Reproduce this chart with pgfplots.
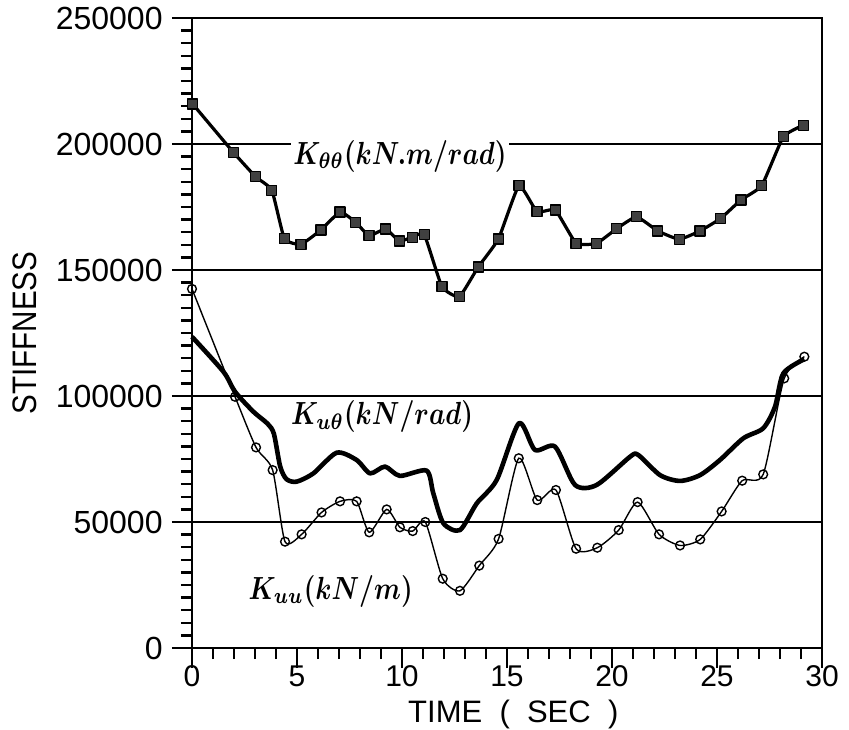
\documentclass[border=0pt]{standalone}
\usepackage{pgfplots}
\pgfplotsset{compat=1.18}
\usepackage{fontspec}
\newfontfamily\tfont{Liberation Sans}
\begin{document}
\begin{tikzpicture}
\useasboundingbox (-96pt,-40.5pt) rectangle (328.5pt,324pt);
\begin{axis}[
 at={(0,0)}, anchor=south west,
 scale only axis, width=315pt, height=315pt,
 xmin=0, xmax=30, ymin=0, ymax=250000,
 xtick={0,5,...,30}, xticklabels={0,5,10,15,20,25,30},
 ytick={0,50000,...,250000}, yticklabels={0,50000,100000,150000,200000,250000},
 minor x tick num=4, minor y tick num=9,
 scaled ticks=false,
 tick pos=left,
 tick align=outside,
 major tick length=10pt, minor tick length=5.5pt,
 every tick/.style={black, line width=1.2pt},
 axis line style={line width=1.1pt},
 ymajorgrids, grid style={black, line width=0.9pt},
 xticklabel style={font=\tfont\fontsize{15}{17}\selectfont, anchor=center, yshift=-4pt},
 yticklabel style={font=\tfont\fontsize{16}{18}\selectfont, anchor=east, inner sep=0pt, xshift=-4.5pt},
 ylabel={\scalebox{0.87}[1]{STIFFNESS}},
 ylabel style={font=\tfont\fontsize{17}{20}\selectfont, at={(axis description cs:-0.265,0.5)}, anchor=center},
 xlabel={TIME\ \ (\ \ SEC\ \ )},
 xlabel style={font=\tfont\fontsize{15.5}{18}\selectfont, at={(axis description cs:0.51,-0.105)}, anchor=center},
 clip=false,
]
% K_theta theta
\addplot[black, line width=1.6pt, line join=round, smooth, tension=0.25, mark=square*, mark size=2.5pt,
  mark options={fill=black!75, draw=black, line width=0.6pt}] coordinates {
(0.03,215900) (1.97,196700) (3.03,187000) (3.8,181700) (4.4,162400) (5.19,160200)
(6.14,165900) (7.05,173000) (7.79,169000) (8.43,163600) (9.22,166300) (9.87,161500)
(10.49,163000) (11.06,164100) (11.9,143400) (12.73,139400) (13.63,151200) (14.59,162300)
(15.57,183500) (16.43,173100) (17.3,173800) (18.29,160600) (19.27,160600) (20.22,166400)
(21.17,171100) (22.18,165500) (23.2,162200) (24.19,165500) (25.18,170500) (26.14,177800)
(27.13,183500) (28.16,202900) (29.1,207400)
};
% K_u theta
\addplot[black, line width=2.3pt, line join=round, smooth, tension=0.45] coordinates {
(0,123500) (1.5,109600) (2.05,101700) (2.92,93800) (3.6,89000) (3.9,85000) (4.2,72000) (4.5,67000) (4.98,66000)
(5.78,69300) (6.89,77500) (7.84,74600) (8.48,69300) (9.19,72000) (9.9,68300) (11.17,70400)
(11.49,61400) (11.97,49500) (12.76,46800) (13.56,57400) (14.51,66700) (15.57,89200)
(16.33,78600) (17.29,79900) (18.24,64700) (19.27,64700) (20.86,75900) (21.25,76600)
(22.29,68600) (23.24,66300) (24.19,68600) (25.14,74600) (26.25,83200) (27.2,87200)
(27.76,95700) (28.16,109000) (29.16,114600)
};
% K_uu
\addplot[black, line width=0.7pt, smooth, tension=0.4, mark=o, mark size=2.2pt,
  mark options={fill=white, line width=0.7pt}] coordinates {
(0,142500) (2.05,99700) (3.05,79600) (3.84,70600) (4.43,42200) (5.22,45100) (6.17,53800)
(7.05,58200) (7.84,58200) (8.44,45900) (9.27,55000) (9.9,47900) (10.51,46400) (11.11,50000)
(11.94,27500) (12.76,22700) (13.68,32700) (14.6,43300) (15.56,75300) (16.44,58700)
(17.33,62700) (18.29,39400) (19.3,39800) (20.32,46800) (21.22,57900) (22.24,45100)
(23.24,40700) (24.2,43100) (25.22,54200) (26.2,66400) (27.2,68900) (28.2,107000) (29.16,115600)
};
\node[fill=white, inner sep=1pt, xscale=1.3, yscale=1.6, font=\boldmath] at (axis cs:9.9,195200) {$K_{\theta\theta}(kN.m/rad)$};
\node[fill=white, inner sep=1pt, xscale=1.3, yscale=1.6, font=\boldmath] at (axis cs:9.05,91700) {$K_{u\theta}(kN/rad)$};
\node[inner sep=1pt, xscale=1.3, yscale=1.6, font=\boldmath] at (axis cs:6.6,22600) {$K_{uu}(kN/m)$};
\end{axis}
\end{tikzpicture}
\end{document}
